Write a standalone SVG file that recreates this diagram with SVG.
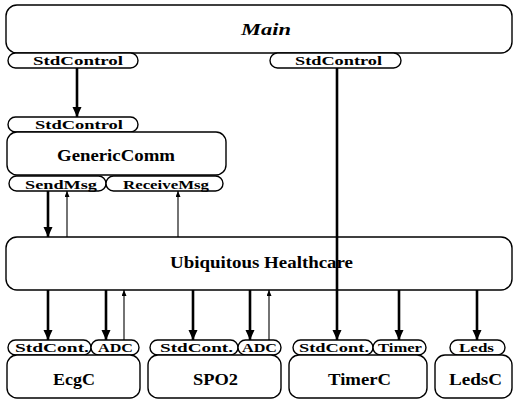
<svg xmlns="http://www.w3.org/2000/svg" width="514" height="400" viewBox="0 0 514 400" font-family="'Liberation Serif', 'DejaVu Serif', serif">
<style>
.box{fill:#fff;stroke:#000;stroke-width:1.4}
.tab{fill:#fff;stroke:#000;stroke-width:1.4}
.t{font-weight:bold;fill:#000}
.big{font-size:17px}
.sm{font-size:13px}
.thick{stroke:#000;stroke-width:2.6;fill:none}
.thin{stroke:#000;stroke-width:1.1;fill:none}
</style>
<defs>
<marker id="ah" markerUnits="userSpaceOnUse" markerWidth="10" markerHeight="10" refX="10" refY="4.5" orient="auto"><path d="M0,0 L10,4.5 L0,9 z" fill="#000"/></marker>
<marker id="as" markerUnits="userSpaceOnUse" markerWidth="7" markerHeight="6" refX="6" refY="2.5" orient="auto"><path d="M0,0 L6,2.5 L0,5 z" fill="#000"/></marker>
</defs>
<rect width="514" height="400" fill="#fff"/>
<g id="main">
<rect class="box" x="6" y="5" width="506" height="48" rx="11"/>
<text class="t big" x="241" y="35" font-style="italic" textLength="50" lengthAdjust="spacingAndGlyphs">Main</text>
<rect class="tab" x="8" y="53" width="130" height="15" rx="7.5"/>
<text class="t sm" x="33" y="65" textLength="90" lengthAdjust="spacingAndGlyphs">StdControl</text>
<rect class="tab" x="270" y="53" width="131" height="15" rx="7.5"/>
<text class="t sm" x="295" y="65" textLength="87" lengthAdjust="spacingAndGlyphs">StdControl</text>
</g>
<g id="genericcomm">
<rect class="tab" x="8" y="117" width="130" height="15" rx="7.5"/>
<text class="t sm" x="35" y="129" textLength="88" lengthAdjust="spacingAndGlyphs">StdControl</text>
<rect class="box" x="7" y="132" width="219" height="43" rx="10"/>
<text class="t big" x="57" y="161" textLength="118" lengthAdjust="spacingAndGlyphs">GenericComm</text>
<rect class="tab" x="9" y="176" width="97" height="15" rx="7.5"/>
<text class="t sm" x="25" y="189" textLength="72" lengthAdjust="spacingAndGlyphs">SendMsg</text>
<rect class="tab" x="106" y="176" width="117" height="15" rx="7.5"/>
<text class="t sm" x="123" y="189" textLength="86" lengthAdjust="spacingAndGlyphs">ReceiveMsg</text>
</g>
<g id="ubiquitous">
<rect class="box" x="6" y="237" width="506" height="53" rx="11"/>
<text class="t big" x="170" y="268" textLength="183" lengthAdjust="spacingAndGlyphs">Ubiquitous Healthcare</text>
</g>
<g id="ecgc">
<rect class="tab" x="8" y="340" width="83" height="15" rx="7.5"/>
<text class="t sm" x="15" y="352" textLength="74" lengthAdjust="spacingAndGlyphs">StdCont.</text>
<rect class="tab" x="91" y="340" width="48" height="15" rx="7.5"/>
<text class="t sm" x="98" y="352" textLength="35" lengthAdjust="spacingAndGlyphs">ADC</text>
<rect class="box" x="7" y="355" width="133" height="43" rx="10"/>
<text class="t big" x="53" y="385" textLength="42" lengthAdjust="spacingAndGlyphs">EcgC</text>
</g>
<g id="spo2">
<rect class="tab" x="150" y="340" width="88" height="15" rx="7.5"/>
<text class="t sm" x="160" y="352" textLength="73" lengthAdjust="spacingAndGlyphs">StdCont.</text>
<rect class="tab" x="238" y="340" width="43" height="15" rx="7.5"/>
<text class="t sm" x="242" y="352" textLength="35" lengthAdjust="spacingAndGlyphs">ADC</text>
<rect class="box" x="148" y="355" width="133" height="43" rx="10"/>
<text class="t big" x="193" y="385" textLength="45" lengthAdjust="spacingAndGlyphs">SPO2</text>
</g>
<g id="timerc">
<rect class="tab" x="293" y="340" width="80" height="15" rx="7.5"/>
<text class="t sm" x="299" y="352" textLength="70" lengthAdjust="spacingAndGlyphs">StdCont.</text>
<rect class="tab" x="373" y="340" width="53" height="15" rx="7.5"/>
<text class="t sm" x="378" y="352" textLength="44" lengthAdjust="spacingAndGlyphs">Timer</text>
<rect class="box" x="289" y="355" width="138" height="43" rx="10"/>
<text class="t big" x="328" y="385" textLength="63" lengthAdjust="spacingAndGlyphs">TimerC</text>
</g>
<g id="ledsc">
<rect class="tab" x="450" y="340" width="55" height="15" rx="7.5"/>
<text class="t sm" x="459" y="352" textLength="35" lengthAdjust="spacingAndGlyphs">Leds</text>
<rect class="box" x="435" y="355" width="77" height="43" rx="10"/>
<text class="t big" x="449" y="385" textLength="53" lengthAdjust="spacingAndGlyphs">LedsC</text>
</g>
<g id="connectors">
<line class="thick" x1="77" y1="68" x2="77" y2="117" marker-end="url(#ah)"/>
<line class="thick" x1="337" y1="68" x2="337" y2="340" marker-end="url(#ah)"/>
<line class="thick" x1="48" y1="191" x2="48" y2="237" marker-end="url(#ah)"/>
<line class="thin" x1="67" y1="237" x2="67" y2="191" marker-end="url(#as)"/>
<line class="thin" x1="178" y1="237" x2="178" y2="191" marker-end="url(#as)"/>
<line class="thick" x1="48" y1="290" x2="48" y2="340" marker-end="url(#ah)"/>
<line class="thick" x1="106" y1="290" x2="106" y2="340" marker-end="url(#ah)"/>
<line class="thin" x1="124" y1="340" x2="124" y2="290" marker-end="url(#as)"/>
<line class="thick" x1="193" y1="290" x2="193" y2="340" marker-end="url(#ah)"/>
<line class="thick" x1="250" y1="290" x2="250" y2="340" marker-end="url(#ah)"/>
<line class="thin" x1="269" y1="340" x2="269" y2="290" marker-end="url(#as)"/>
<line class="thick" x1="399" y1="290" x2="399" y2="340" marker-end="url(#ah)"/>
<line class="thick" x1="477" y1="290" x2="477" y2="340" marker-end="url(#ah)"/>
</g>
</svg>
